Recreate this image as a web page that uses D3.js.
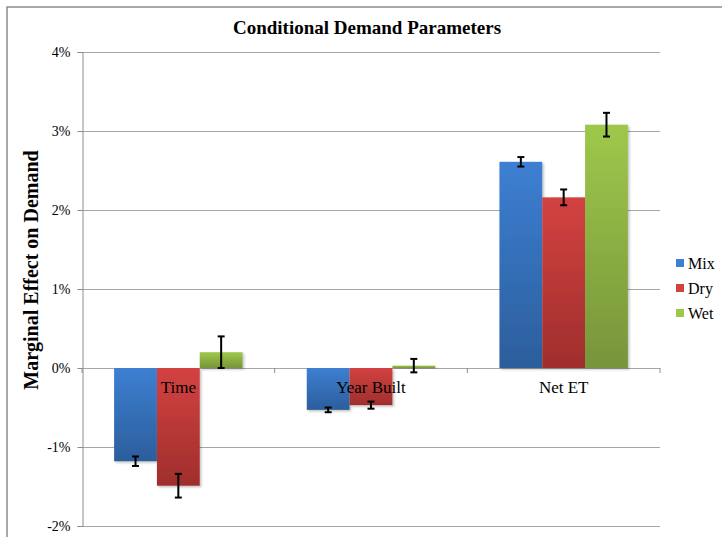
<!DOCTYPE html>
<html>
<head>
<meta charset="utf-8">
<script src="https://cdn.jsdelivr.net/npm/d3@7"></script>
<style>
  body { margin: 0; background: #fff; }
</style>
</head>
<body>
<div id="chart"></div>
<script>
/* Conditional Demand Parameters - grouped bars with error bars */

const categories = ["Time", "Year Built", "Net ET"];
const seriesNames = ["Mix", "Dry", "Wet"];
const mixValues = [-1.18, -0.53, 2.61];
const dryValues = [-1.49, -0.47, 2.16];
const wetValues = [0.20, 0.03, 3.08];
const mixErrors = [0.06, 0.03, 0.06];
const dryErrors = [0.15, 0.045, 0.10];
const wetErrors = [0.20, 0.085, 0.15];
const yTicks = [-2, -1, 0, 1, 2, 3, 4];

const width = 722,
      height = 537,
      margin = ({ top: 52, right: 62, bottom: 11, left: 82 });

const serif = "'Liberation Serif', 'Times New Roman', serif";

const colors = {
    Mix: ["#3d7fd2", "#2c5e9c"],
    Dry: ["#d34241", "#9f2e2c"],
    Wet: ["#9ec84b", "#77953a"]
};

const values = { Mix: mixValues, Dry: dryValues, Wet: wetValues };
const errors = { Mix: mixErrors, Dry: dryErrors, Wet: wetErrors };

let data = [];
categories.forEach((c, i) => {
    seriesNames.forEach(s => {
        data.push({ cat: c, series: s, value: values[s][i], err: errors[s][i] });
    });
});

let svg = d3.select("#chart")
    .append("svg")
    .attr("width", width)
    .attr("height", height)
    .attr("viewBox", [0, 0, width, height])
    .style("font-family", serif);

// gradients for the bars
const defs = svg.append("defs");
seriesNames.forEach(s => {
    let g = defs.append("linearGradient")
        .attr("id", "grad-" + s)
        .attr("x1", 0).attr("y1", 0).attr("x2", 0).attr("y2", 1);
    g.append("stop").attr("offset", "0%").attr("stop-color", colors[s][0]);
    g.append("stop").attr("offset", "100%").attr("stop-color", colors[s][1]);
});
let shadow = defs.append("filter").attr("id", "shadow")
    .attr("x", "-10%").attr("y", "-10%").attr("width", "130%").attr("height", "130%");
shadow.append("feDropShadow")
    .attr("dx", 1.5).attr("dy", 1.5).attr("stdDeviation", 1.2)
    .attr("flood-color", "#000").attr("flood-opacity", 0.25);

// chart frame (top and left edges)
svg.append("path")
    .attr("d", `M7,${height} V7 H${width}`)
    .attr("fill", "none")
    .attr("stroke", "#8c8c8c")
    .attr("stroke-width", 1.5);

const x = d3.scaleBand()
    .domain(categories)
    .range([margin.left, width - margin.right]);

const xInner = d3.scaleBand()
    .domain(seriesNames)
    .range([0, x.bandwidth()])
    .paddingOuter(0.75)
    .paddingInner(0);

const y = d3.scaleLinear()
    .domain([-2, 4])
    .range([height - margin.bottom, margin.top]);

// gridlines
svg.append("g")
    .selectAll("line")
    .data(yTicks)
    .join("line")
    .attr("x1", margin.left)
    .attr("x2", width - margin.right)
    .attr("y1", d => Math.round(y(d)) + 0.5)
    .attr("y2", d => Math.round(y(d)) + 0.5)
    .attr("stroke", "#a6a6a6")
    .attr("stroke-width", 1.2);

// y axis
const yAxis = g => g
    .attr("transform", `translate(${margin.left + 0.5}, 0)`)
    .call(d3.axisLeft(y).tickValues(yTicks).tickSize(5).tickPadding(7)
        .tickFormat(d => d + "%"))
    .attr("font-family", null)
    .call(g => g.select(".domain").attr("stroke", "#8c8c8c"))
    .call(g => g.selectAll(".tick line").attr("stroke", "#8c8c8c"))
    .call(g => g.selectAll(".tick text")
        .style("font-family", serif)
        .attr("font-size", 14)
        .attr("fill", "#000"));

svg.append("g").call(yAxis);

// bars
let bar = svg.selectAll(".bar")
    .data(data)
    .join("g")
    .attr("class", "bar");

bar.append("rect")
    .attr("x", d => x(d.cat) + xInner(d.series))
    .attr("width", xInner.bandwidth())
    .attr("y", d => y(Math.max(0, d.value)))
    .attr("height", d => Math.abs(y(d.value) - y(0)))
    .attr("fill", d => `url(#grad-${d.series})`)
    .attr("filter", "url(#shadow)");

// category ticks on the zero line
svg.append("g")
    .selectAll("line")
    .data(categories.concat(["end"]))
    .join("line")
    .attr("x1", d => d === "end" ? width - margin.right : x(d))
    .attr("x2", d => d === "end" ? width - margin.right : x(d))
    .attr("y1", y(0))
    .attr("y2", y(0) + 5)
    .attr("stroke", "#8c8c8c");

// category labels just below zero
svg.append("g")
    .selectAll("text")
    .data(categories)
    .join("text")
    .attr("x", d => x(d) + x.bandwidth() / 2)
    .attr("y", y(0) + 25)
    .attr("text-anchor", "middle")
    .attr("font-size", 17)
    .attr("fill", "#000")
    .style("font-family", serif)
    .text(d => d);

// error bars
const cap = 3.5;
let eb = bar.append("g")
    .attr("stroke", "#000")
    .attr("stroke-width", 2);

eb.append("line")
    .attr("x1", d => x(d.cat) + xInner(d.series) + xInner.bandwidth() / 2)
    .attr("x2", d => x(d.cat) + xInner(d.series) + xInner.bandwidth() / 2)
    .attr("y1", d => y(d.value + d.err))
    .attr("y2", d => y(d.value - d.err));

eb.append("line")
    .attr("x1", d => x(d.cat) + xInner(d.series) + xInner.bandwidth() / 2 - cap)
    .attr("x2", d => x(d.cat) + xInner(d.series) + xInner.bandwidth() / 2 + cap)
    .attr("y1", d => y(d.value + d.err))
    .attr("y2", d => y(d.value + d.err));

eb.append("line")
    .attr("x1", d => x(d.cat) + xInner(d.series) + xInner.bandwidth() / 2 - cap)
    .attr("x2", d => x(d.cat) + xInner(d.series) + xInner.bandwidth() / 2 + cap)
    .attr("y1", d => y(d.value - d.err))
    .attr("y2", d => y(d.value - d.err));

// title
svg.append("text")
    .attr("x", 367)
    .attr("y", 34)
    .attr("text-anchor", "middle")
    .attr("font-size", 19)
    .attr("font-weight", "bold")
    .style("font-family", serif)
    .text("Conditional Demand Parameters");

// y axis title
svg.append("text")
    .attr("transform", "translate(38, 270) rotate(-90)")
    .attr("text-anchor", "middle")
    .attr("font-size", 20)
    .attr("font-weight", "bold")
    .style("font-family", serif)
    .text("Marginal Effect on Demand");

// legend
let legend = svg.append("g")
    .selectAll("g")
    .data(seriesNames)
    .join("g")
    .attr("transform", (d, i) => `translate(676, ${263 + i * 25})`);

legend.append("rect")
    .attr("x", 0)
    .attr("y", -4)
    .attr("width", 8)
    .attr("height", 8)
    .attr("fill", d => colors[d][0]);

legend.append("text")
    .attr("x", 12)
    .attr("y", 5.5)
    .attr("font-size", 16)
    .style("font-family", serif)
    .text(d => d);
</script>
</body>
</html>
